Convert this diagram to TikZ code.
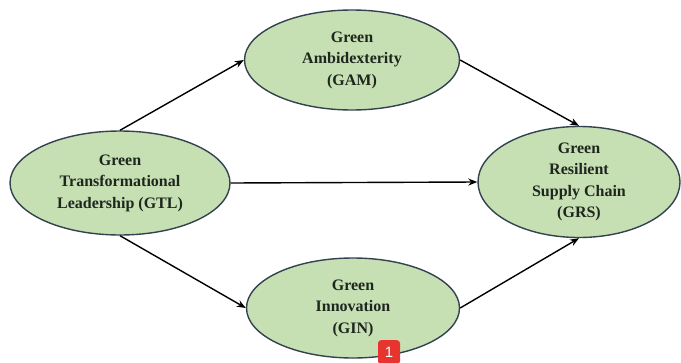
\documentclass[tikz,border=0pt]{standalone}
\usepackage{fontspec}
\setmainfont{Liberation Serif}
\newfontfamily\badgefont{Liberation Sans}
\usetikzlibrary{shapes.geometric,arrows.meta}
\definecolor{ellfill}{HTML}{C6E0B4}
\definecolor{elldraw}{HTML}{33424F}
\definecolor{elltext}{HTML}{1E261E}
\definecolor{badgered}{HTML}{E8342F}
\begin{document}
\begin{tikzpicture}[x=1pt,y=-1pt,
  construct/.style={ellipse, draw=elldraw, line width=1.4pt, fill=ellfill, inner sep=0pt,
    align=center, text=elltext, font=\fontsize{16}{21.5}\selectfont\bfseries},
  link/.style={-{Stealth[length=9pt,width=7pt]}, line width=1.4pt, black}]
\useasboundingbox (0,0) rectangle (681,362);
\node[construct, minimum width=220pt, minimum height=104pt] (GTL) at (120,183) {Green\\Transformational\\Leadership (GTL)};
\node[construct, minimum width=215pt, minimum height=100pt] (GAM) at (352,60) {Green\\Ambidexterity\\(GAM)};
\node[construct, minimum width=213pt, minimum height=100pt] (GIN) at (353,308) {Green\\Innovation\\(GIN)};
\node[construct, minimum width=202pt, minimum height=108pt] (GRS) at (579,182) {Green\\Resilient\\Supply Chain\\(GRS)};
\draw[link] (GTL.north) -- (GAM.west);
\draw[link] (GAM.east) -- (GRS.north);
\draw[link] (GTL.east) -- (GRS.west);
\draw[link] (GTL.south) -- (GIN.west);
\draw[link] (GIN.east) -- (GRS.south);
\node[fill=badgered, rounded corners=3pt, minimum width=22pt, minimum height=24pt, inner sep=0pt,
  text=white, font=\badgefont\fontsize{15}{15}\selectfont, anchor=north] (badge) at (389,340) {1};
\end{tikzpicture}
\end{document}
